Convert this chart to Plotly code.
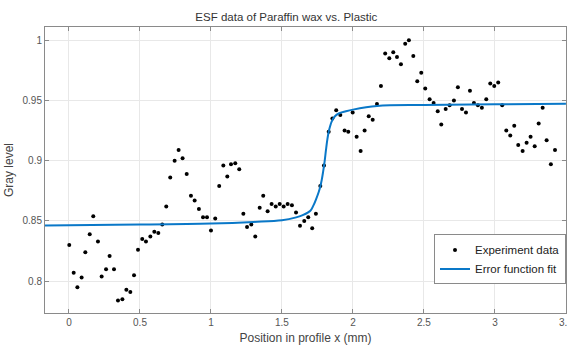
import plotly.graph_objects as go

# Experiment data
exp_x = [0.002, 0.033, 0.059, 0.089, 0.115, 0.146, 0.171, 0.204, 0.230, 0.261,
         0.286, 0.317, 0.345, 0.376, 0.404, 0.432, 0.458, 0.486, 0.516, 0.542,
         0.573, 0.601, 0.629, 0.657, 0.685, 0.713, 0.744, 0.772, 0.800, 0.829,
         0.859, 0.885, 0.915, 0.944, 0.972, 1.000, 1.030, 1.058, 1.087, 1.115,
         1.141, 1.171, 1.199, 1.228, 1.254, 1.284, 1.312, 1.343, 1.368, 1.399,
         1.427, 1.456, 1.484, 1.512, 1.540, 1.570, 1.599, 1.627, 1.657, 1.685,
         1.713, 1.739, 1.770, 1.796, 1.829, 1.855, 1.882, 1.911, 1.941, 1.967,
         1.998, 2.026, 2.054, 2.082, 2.111, 2.139, 2.169, 2.197, 2.227, 2.256,
         2.284, 2.310, 2.338, 2.368, 2.394, 2.425, 2.453, 2.481, 2.509, 2.540,
         2.568, 2.597, 2.622, 2.653, 2.681, 2.711, 2.739, 2.768, 2.796, 2.824,
         2.852, 2.880, 2.908, 2.939, 2.967, 2.995, 3.023, 3.051, 3.080, 3.108,
         3.136, 3.164, 3.195, 3.223, 3.251, 3.280, 3.308, 3.336, 3.364, 3.394,
         3.423]
exp_y = [0.830, 0.807, 0.795, 0.803, 0.824, 0.839, 0.854, 0.833, 0.804, 0.810,
         0.821, 0.810, 0.784, 0.785, 0.793, 0.791, 0.805, 0.826, 0.835, 0.833,
         0.837, 0.841, 0.840, 0.847, 0.862, 0.886, 0.900, 0.909, 0.902, 0.889,
         0.871, 0.867, 0.860, 0.853, 0.853, 0.842, 0.852, 0.879, 0.896, 0.887,
         0.897, 0.898, 0.893, 0.856, 0.845, 0.847, 0.837, 0.861, 0.871, 0.858,
         0.864, 0.862, 0.864, 0.862, 0.864, 0.863, 0.857, 0.846, 0.850, 0.853,
         0.844, 0.856, 0.879, 0.896, 0.924, 0.935, 0.942, 0.938, 0.925, 0.924,
         0.940, 0.920, 0.908, 0.925, 0.937, 0.934, 0.947, 0.962, 0.989, 0.985,
         0.990, 0.986, 0.980, 0.997, 1.000, 0.987, 0.966, 0.973, 0.960, 0.951,
         0.948, 0.941, 0.930, 0.943, 0.946, 0.950, 0.961, 0.943, 0.940, 0.958,
         0.948, 0.946, 0.944, 0.951, 0.964, 0.962, 0.965, 0.946, 0.925, 0.921,
         0.929, 0.913, 0.908, 0.915, 0.920, 0.912, 0.931, 0.944, 0.917, 0.897,
         0.909]

# Error function fit
fit_x = [-0.17, 0.0, 0.5, 1.0, 1.3, 1.5, 1.6, 1.65, 1.70, 1.72, 1.74, 1.76,
         1.77, 1.78, 1.79, 1.80, 1.81, 1.82, 1.83, 1.84, 1.85, 1.87, 1.90,
         1.95, 2.00, 2.17, 2.5, 3.0, 3.5]
fit_y = [0.8462, 0.8465, 0.8470, 0.8479, 0.8492, 0.8506, 0.8530, 0.8550,
         0.8585, 0.8625, 0.8680, 0.8745, 0.8786, 0.8840, 0.8910, 0.8990,
         0.9090, 0.9180, 0.9245, 0.9290, 0.9325, 0.9365, 0.9392, 0.9410,
         0.9424, 0.9454, 0.9463, 0.9468, 0.9472]

x_ticks = [0, 0.5, 1, 1.5, 2, 2.5, 3, 3.5]
x_tick_labels = ["0", "0.5", "1", "1.5", "2", "2.5", "3", "3.5"]
y_ticks = [0.8, 0.85, 0.9, 0.95, 1]
y_tick_labels = ["0.8", "0.85", "0.9", "0.95", "1"]

fig = go.Figure()
fig.add_trace(go.Scatter(x=exp_x, y=exp_y, mode="markers", name="Experiment data",
                         marker=dict(color="black", size=4)))
fig.add_trace(go.Scatter(x=fit_x, y=fit_y, mode="lines", name="Error function fit",
                         line=dict(color="#0a78c8", width=2), line_shape="spline"))

axis_common = dict(showline=True, linecolor="#8a8a8a", linewidth=1, mirror="ticks",
                   ticks="inside", ticklen=4, tickcolor="#8a8a8a",
                   showgrid=True, gridcolor="#e8e8e8", gridwidth=1, zeroline=False,
                   ticklabeloverflow="allow", automargin=False,
                   tickfont=dict(family="Arial", size=10, color="#555555"))

fig.update_xaxes(range=[-0.169, 3.5005], tickvals=x_ticks, ticktext=x_tick_labels,
                 title=dict(text="Position in profile x (mm)", standoff=6,
                            font=dict(family="Arial", size=12, color="#444444")),
                 **axis_common)
fig.update_yaxes(range=[0.7736, 1.011], tickvals=y_ticks, ticktext=y_tick_labels,
                 title=dict(text="Gray level", standoff=6,
                            font=dict(family="Arial", size=12, color="#444444")),
                 **axis_common)

fig.update_layout(
    width=567, height=345,
    margin=dict(l=45, r=1, t=27, b=32),
    paper_bgcolor="white", plot_bgcolor="white",
    title=dict(text="ESF data of Paraffin wax vs. Plastic", x=0.505, xanchor="center",
               y=1 - 17 / 345, yanchor="middle",
               font=dict(family="Arial", size=11.5, color="#333333")),
    legend=dict(x=1.0, xanchor="right", y=0.1, yanchor="bottom",
                bgcolor="white", bordercolor="#8a8a8a", borderwidth=1,
                itemwidth=30, tracegroupgap=0,
                font=dict(family="Arial", size=11.5, color="#222222")),
    showlegend=True,
)

fig.write_html("out.html")
